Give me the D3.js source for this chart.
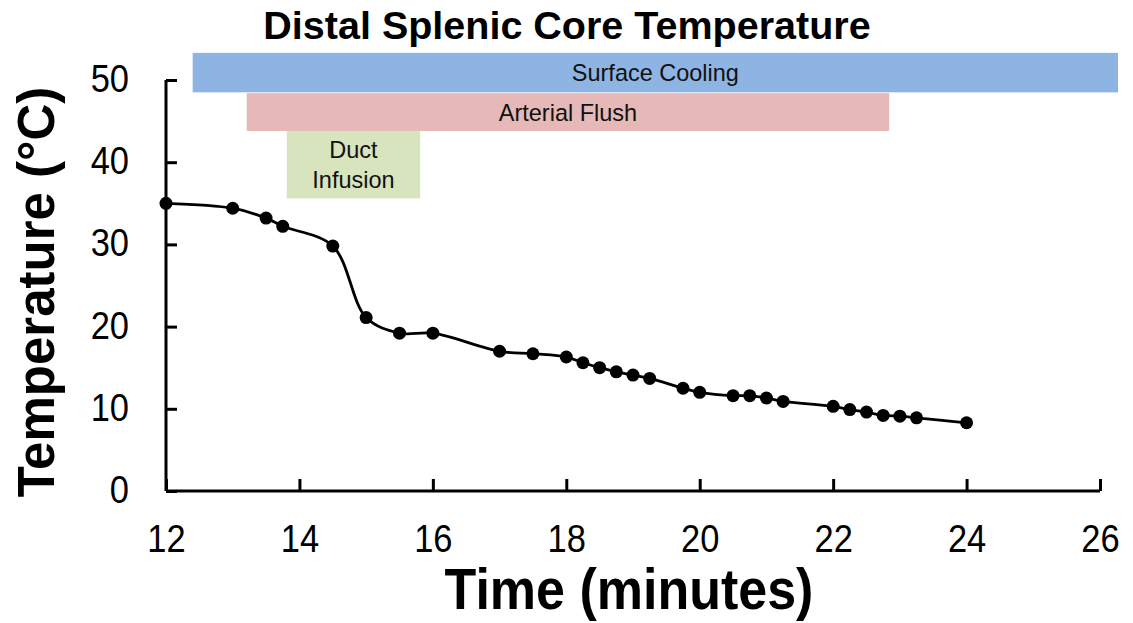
<!DOCTYPE html>
<html>
<head>
<meta charset="utf-8">
<script src="https://cdn.jsdelivr.net/npm/d3@7"></script>
<style>
  body { margin: 0; background: #fff; }
  svg { display: block; font-family: "Liberation Sans", Arial, sans-serif; }
</style>
</head>
<body>
<div id="chart"></div>
<script>
// time (minutes) and distal splenic core temperature (°C)
const times = [12, 13, 13.5, 13.75, 14.5, 15, 15.5, 16, 17, 17.5, 18, 18.25, 18.5, 18.75, 19, 19.25,
  19.75, 20, 20.5, 20.75, 21, 21.25, 22, 22.25, 22.5, 22.75, 23, 23.25, 24]
const temps = [35.0, 34.4, 33.2, 32.2, 29.8, 21.1, 19.2, 19.2, 17.0, 16.7, 16.3, 15.6, 15.0, 14.5, 14.1, 13.7,
  12.5, 12.0, 11.6, 11.6, 11.3, 10.9, 10.3, 9.9, 9.6, 9.2, 9.1, 8.9, 8.3]

// procedure phases drawn as bands
const phaseNames = ["Surface Cooling", "Arterial Flush", ["Duct", "Infusion"]]
const phaseStart = [12.4, 13.21, 13.81]
const phaseEnd = [26.27, 22.84, 15.81]
const phaseTop = [53.3, 48.4, 43.8]
const phaseBottom = [48.5, 43.8, 35.6]
const phaseColors = ["#8eb4e3", "#e6b9b8", "#d7e4bd"]

const xTicks = [12, 14, 16, 18, 20, 22, 24, 26]
const yTicks = [0, 10, 20, 30, 40, 50]

const width = 1133
const height = 623
const stretch = 1.12 // text in the picture is a bit taller than wide

const svg = d3.select("#chart")
    .append("svg")
    .attr("width", width)
    .attr("height", height)

const xScale = d3.scaleLinear().domain([12, 26]).range([166, 1100])
const yScale = d3.scaleLinear().domain([0, 50]).range([491, 80])

// phase bands
const phases = phaseNames.map((n, i) => ({
    name: n, x0: phaseStart[i], x1: phaseEnd[i], y0: phaseTop[i], y1: phaseBottom[i], color: phaseColors[i]
}))

svg.selectAll("rect.phase")
    .data(phases)
    .enter()
    .append("rect")
    .attr("class", "phase")
    .attr("x", d => xScale(d.x0))
    .attr("y", d => yScale(d.y0))
    .attr("width", d => xScale(d.x1) - xScale(d.x0))
    .attr("height", d => yScale(d.y1) - yScale(d.y0))
    .attr("fill", d => d.color)

phases.forEach(d => {
    const lines = Array.isArray(d.name) ? d.name : [d.name]
    const cx = (xScale(d.x0) + xScale(d.x1)) / 2
    const cy = (yScale(d.y0) + yScale(d.y1)) / 2
    lines.forEach((l, j) => {
        const y = cy + (j - (lines.length - 1) / 2) * 30 + 8.5
        svg.append("text")
            .attr("text-anchor", "middle")
            .attr("font-size", 23.5)
            .attr("fill", "#111")
            .attr("transform", `translate(${cx},${y}) scale(1,1.05)`)
            .text(l)
    })
})

// axes
const xAxis = d3.axisBottom(xScale).tickValues(xTicks).tickSize(-12)
const yAxis = d3.axisLeft(yScale).tickValues(yTicks).tickSize(-11)

const gx = svg.append("g")
    .attr("transform", `translate(0,${yScale(0)})`)
    .call(xAxis)
gx.select(".domain").attr("d", `M${xScale(12)},0H${xScale(26)}`)
gx.selectAll(".tick text")
    .attr("y", 0).attr("dy", 0)
    .attr("transform", `translate(0,61) scale(1,${stretch})`)

const gy = svg.append("g")
    .attr("transform", `translate(${xScale(12)},0)`)
    .call(yAxis)
gy.select(".domain").attr("d", `M0,${yScale(0)}V${yScale(50)}`)
gy.selectAll(".tick text")
    .attr("x", 0).attr("dy", 0)
    .attr("transform", `translate(-37,11.5) scale(1,${stretch})`)

svg.selectAll(".domain, .tick line")
    .attr("stroke", "#000")
    .attr("stroke-width", 3)
svg.selectAll(".tick text")
    .attr("font-size", 34.5)
    .attr("font-family", "Liberation Sans, Arial, sans-serif")
    .attr("fill", "#000")

// line + markers
const pts = times.map((t, i) => [t, temps[i]])
const line = d3.line()
    .x(d => xScale(d[0]))
    .y(d => yScale(d[1]))
    .curve(d3.curveCatmullRom.alpha(0.5))

svg.append("path")
    .datum(pts)
    .attr("d", line)
    .attr("fill", "none")
    .attr("stroke", "#000")
    .attr("stroke-width", 2.8)

svg.selectAll("circle.pt")
    .data(pts)
    .enter()
    .append("circle")
    .attr("class", "pt")
    .attr("cx", d => xScale(d[0]))
    .attr("cy", d => yScale(d[1]))
    .attr("r", 6.5)
    .attr("fill", "#000")

// titles
svg.append("text")
    .attr("x", 567)
    .attr("y", 39)
    .attr("text-anchor", "middle")
    .attr("font-weight", "bold")
    .attr("font-size", 39.5)
    .text("Distal Splenic Core Temperature")

svg.append("text")
    .attr("transform", `translate(629,609) scale(1,1.1)`)
    .attr("text-anchor", "middle")
    .attr("font-weight", "bold")
    .attr("font-size", 52)
    .text("Time (minutes)")

svg.append("text")
    .attr("transform", "translate(54,292) rotate(-90)")
    .attr("text-anchor", "middle")
    .attr("font-weight", "bold")
    .attr("font-size", 51)
    .text("Temperature (°C)")
</script>
</body>
</html>
